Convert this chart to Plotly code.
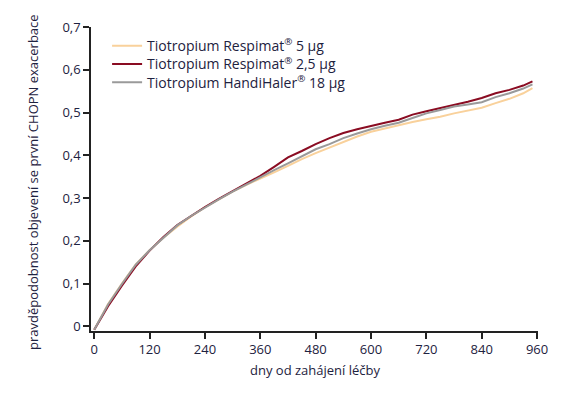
import plotly.graph_objects as go

days = [0, 30, 60, 90, 120, 150, 180, 210, 240, 270, 300, 330, 360, 390, 420, 450,
        480, 510, 540, 570, 600, 630, 660, 690, 720, 750, 780, 810, 840, 870, 900, 930, 950]

resp5 = [-0.008, 0.052, 0.100, 0.145, 0.178, 0.207, 0.233, 0.257, 0.278, 0.297, 0.315, 0.331,
         0.345, 0.360, 0.375, 0.391, 0.405, 0.418, 0.432, 0.444, 0.455, 0.463, 0.470, 0.478,
         0.484, 0.490, 0.498, 0.504, 0.511, 0.522, 0.532, 0.545, 0.557]
resp25 = [-0.008, 0.047, 0.095, 0.140, 0.177, 0.209, 0.237, 0.259, 0.279, 0.298, 0.316, 0.333,
          0.352, 0.373, 0.395, 0.410, 0.426, 0.440, 0.452, 0.461, 0.469, 0.476, 0.483, 0.495,
          0.503, 0.510, 0.517, 0.525, 0.534, 0.545, 0.553, 0.563, 0.573]
handi = [-0.008, 0.051, 0.099, 0.144, 0.178, 0.208, 0.236, 0.258, 0.278, 0.297, 0.315, 0.332,
         0.348, 0.365, 0.381, 0.398, 0.414, 0.426, 0.440, 0.451, 0.461, 0.469, 0.476, 0.487,
         0.498, 0.506, 0.514, 0.519, 0.524, 0.536, 0.545, 0.556, 0.566]

R = "<sup>®</sup>"
names = ["Tiotropium Respimat" + R + " 5 μg",
         "Tiotropium Respimat" + R + " 2,5 μg",
         "Tiotropium HandiHaler" + R + " 18 μg"]
colors = ["#F9D19B", "#8A0C22", "#9A9A9A"]

x_ticks = [0, 120, 240, 360, 480, 600, 720, 840, 960]
y_ticks = [0, 0.1, 0.2, 0.3, 0.4, 0.5, 0.6, 0.7]
y_labels = ["0", "0,1", "0,2", "0,3", "0,4", "0,5", "0,6", "0,7"]
x_title = "dny od zahájení léčby"
y_title = "pravděpodobnost objevení se první CHOPN exacerbace"

font_fam = "'Open Sans', sans-serif"
txt_col = "#1E2240"

fig = go.Figure()
legend_ids = ["legend", "legend2", "legend3"]
for ys, nm, c, lg in zip([resp5, resp25, handi], names, colors, legend_ids):
    fig.add_trace(go.Scatter(x=days, y=ys, mode="lines", name=nm, legend=lg,
                             line=dict(color=c, width=2)))

def leg(yv):
    return dict(x=0.036, y=yv, xanchor="left", yanchor="middle",
                bgcolor="rgba(0,0,0,0)", font=dict(size=14, color=txt_col),
                itemwidth=30)

# page body has an 8px margin, so the figure is offset by 8px
fig.update_layout(
    width=554, height=389,
    margin=dict(l=83, r=24, t=19, b=66, autoexpand=False),
    paper_bgcolor="white", plot_bgcolor="white",
    font=dict(family=font_fam, size=13, color=txt_col),
    legend=leg(0.937), legend2=leg(0.877), legend3=leg(0.817),
    showlegend=True,
    annotations=[
        dict(text=x_title, xref="paper", yref="paper", x=0.5, y=-0.129,
             xanchor="center", yanchor="middle", showarrow=False,
             font=dict(size=13, color=txt_col)),
        dict(text=y_title, xref="paper", yref="paper", x=-0.13, y=0.49,
             xanchor="center", yanchor="middle", showarrow=False, textangle=-90,
             font=dict(size=13, color=txt_col)),
    ],
)
fig.update_xaxes(range=[-7, 962], tickvals=x_ticks, ticktext=[str(v) for v in x_ticks],
                 automargin=False,
                 showgrid=False, zeroline=False, showline=True, linecolor="#222", linewidth=1.5,
                 ticks="outside", ticklen=6, tickwidth=1.5, tickcolor="#222",
                 tickfont=dict(size=13, color=txt_col))
fig.update_yaxes(range=[-0.011, 0.7], tickvals=y_ticks, ticktext=y_labels,
                 automargin=False,
                 showgrid=False, zeroline=False, showline=True, linecolor="#222", linewidth=1.5,
                 ticks="outside", ticklen=6, tickwidth=1.5, tickcolor="#222",
                 tickfont=dict(size=13, color=txt_col))

fig.write_html("out.html")
